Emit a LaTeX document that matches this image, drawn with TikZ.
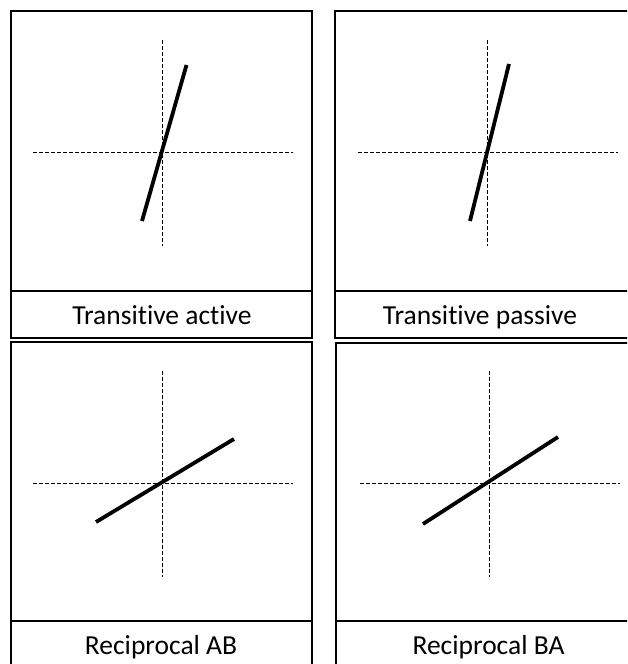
\documentclass[tikz,border=0pt]{standalone}
\usepackage{fontspec}
\setmainfont{Carlito}[Ligatures={NoCommon,NoContextual}]
\usetikzlibrary{positioning}
\tikzset{
  panel/.style={draw,line width=1.4pt},
  axis/.style={line width=0.8pt,dash pattern=on 4pt off 2pt},
  slope/.style={line width=3.8pt},
  caption/.style={anchor=base,inner sep=0pt,font=\fontsize{27.5}{30}\selectfont}
}

\begin{document}
\begin{tikzpicture}[x=1pt,y=-1pt]
  \useasboundingbox (0,0) rectangle (627,664);
  \clip (0,0) rectangle (627,664);
  % left/top/right/bottom/divider, axis centre, thick line ends, caption
  \foreach \l/\t/\r/\b/\d/\cx/\cy/\ax/\ay/\bx/\by/\lx/\ly/\txt [count=\i] in {
      11/11/312/338/291/162/152/142/221/186.5/65/162/324.3/Transitive active,
      335/11/640/338/291/487/152/470/221/509/64/480/324.3/Transitive passive,
      11/342/312/680/621/162/483/96/522/234/439/161/654.3/Reciprocal AB,
      336/343/640/680/621/489/483/423/524/558/437/488.5/654.3/Reciprocal BA}{
    \draw[panel] (\l,\t) rectangle (\r,\b);
    \draw[panel] (\l,\d) -- (\r,\d);
    \draw[axis] (\cx-129,\cy) -- (\cx+131,\cy);
    \draw[axis] (\cx,\cy-112) -- (\cx,\cy+94);
    \draw[slope] (\ax,\ay) -- (\bx,\by);
    \node[caption] (cap\i) at (\lx,\ly) {\txt};
  }
\end{tikzpicture}
\end{document}
